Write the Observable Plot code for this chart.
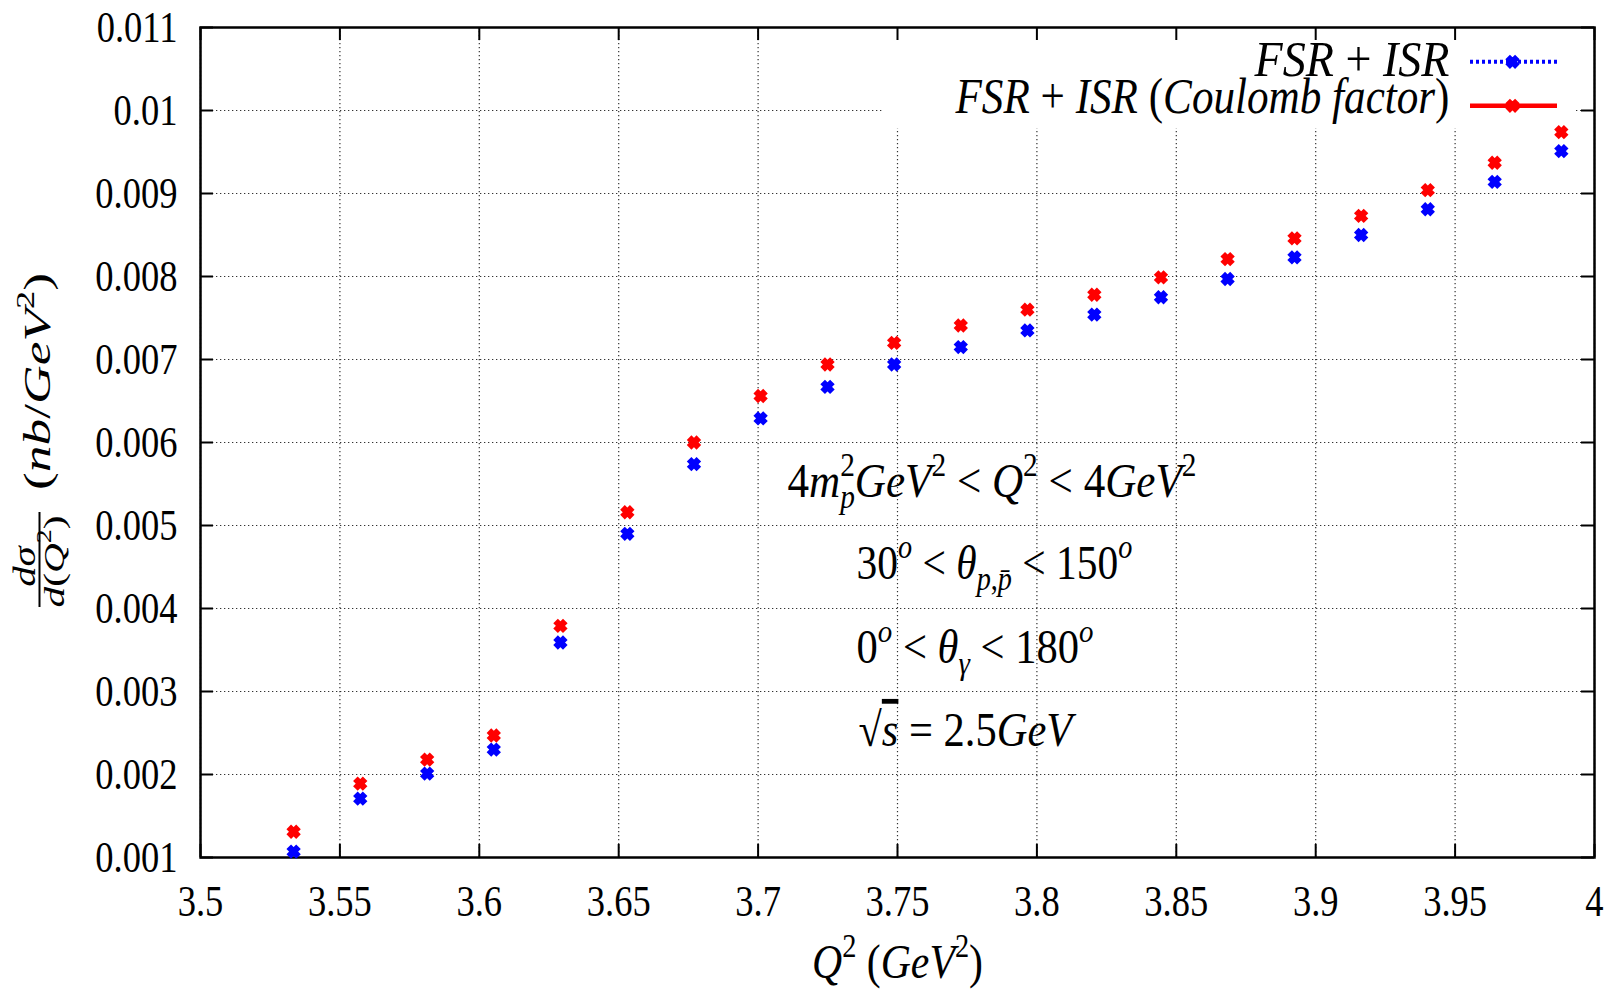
<!DOCTYPE html>
<html>
<head>
<meta charset="utf-8">
<script src="https://cdn.jsdelivr.net/npm/d3@7"></script>
<script src="https://cdn.jsdelivr.net/npm/@observablehq/plot@0.6"></script>
<style>
  html, body { margin: 0; padding: 0; background: white; }
  svg text, svg tspan { font-family: "Liberation Serif", "DejaVu Serif", serif !important; }
</style>
</head>
<body>
<script>
// ---- data ----
const q2 = [3.5334, 3.5573, 3.5813, 3.6052, 3.6291, 3.6531, 3.6770, 3.7009, 3.7249, 3.7488,
            3.7727, 3.7966, 3.8206, 3.8445, 3.8684, 3.8924, 3.9163, 3.9402, 3.9642, 3.9881];
const fsrIsr = [0.00107, 0.00171, 0.00201, 0.00230, 0.00359, 0.00490, 0.00574, 0.00629, 0.00667, 0.00694,
                0.00715, 0.00735, 0.00754, 0.00775, 0.00797, 0.00823, 0.00850, 0.00881, 0.00914, 0.00951];
const fsrIsrCoulomb = [0.00131, 0.00189, 0.00218, 0.00247, 0.00379, 0.00516, 0.00600, 0.00656, 0.00694, 0.00720,
                       0.00741, 0.00760, 0.00778, 0.00799, 0.00821, 0.00846, 0.00873, 0.00904, 0.00937, 0.00974];
const xTicks = [3.5, 3.55, 3.6, 3.65, 3.7, 3.75, 3.8, 3.85, 3.9, 3.95, 4];
const yTicks = [0.001, 0.002, 0.003, 0.004, 0.005, 0.006, 0.007, 0.008, 0.009, 0.01, 0.011];
const seriesNames = ["FSR + ISR", "FSR + ISR (Coulomb factor)"];
const seriesColors = ["#0000ff", "#ff0000"];
const annotations = [
  "4m^{2}_{p}GeV^{2} < Q^{2} < 4GeV^{2}",
  "30^{o} < θ_{p,p\u0304} < 150^{o}",
  "0^{o} < θ_{γ} < 180^{o}",
  "√~{s} = 2.5GeV"
];
const xTitle = "Q^{2} (GeV^{2})";
const yTitleUnit = "(nb/GeV^{2})";
const yTitleNum = "dσ";
const yTitleDen = "d(Q^{2})";

// ---- layout ----
const W = 1617, H = 991, mL = 200, mR = 23, mT = 27, mB = 134;
const xDom = [3.5, 4], yDom = [0.001, 0.011];
const pw = W - mL - mR, ph = H - mT - mB;
const cy = mT + ph / 2;
const px2x = px => xDom[0] + (px - mL) / pw * (xDom[1] - xDom[0]);
const py2y = py => yDom[1] - (py - mT) / ph * (yDom[1] - yDom[0]);
const tickLen = 13;
const tdx = tickLen / pw * (xDom[1] - xDom[0]);
const tdy = tickLen / ph * (yDom[1] - yDom[0]);
const TICK_FONT = 44, TICK_SQUISH = 0.83;

const blueData = q2.map((x, i) => ({x, y: fsrIsr[i]}));
const redData = q2.map((x, i) => ({x, y: fsrIsrCoulomb[i]}));

const gridStyle = {stroke: "#333", strokeOpacity: 1, strokeWidth: 1.2, strokeDasharray: "1.3,2.7"};
const markerStyle = {symbol: "times", r: 4.5, strokeWidth: 6.5};

const richEntries = [];
function rich(src, fs, target, opts) {
  richEntries.push({src, fs, target});
  return Plot.text([src], {text: d => d, fontSize: fs, lineAnchor: "bottom", fill: "black", ...opts});
}

const plot = Plot.plot({
  width: W, height: H,
  marginLeft: mL, marginRight: mR, marginTop: mT, marginBottom: mB,
  x: {domain: xDom},
  y: {domain: yDom},
  style: {fontFamily: "Liberation Serif, serif", fontSize: "34px", color: "black", background: "white", overflow: "visible"},
  marks: [
    Plot.gridX(xTicks, gridStyle),
    Plot.gridY(yTicks, gridStyle),
    // legend background box
    Plot.rect([0], {x1: px2x(882), x2: px2x(1575), y1: py2y(mT), y2: py2y(128), fill: "white"}),
    // inward ticks on all four sides
    Plot.ruleX(xTicks, {x: d => d, y1: yDom[0], y2: yDom[0] + tdy, stroke: "black", strokeWidth: 2}),
    Plot.ruleX(xTicks, {x: d => d, y1: yDom[1] - tdy, y2: yDom[1], stroke: "black", strokeWidth: 2}),
    Plot.ruleY(yTicks, {y: d => d, x1: xDom[0], x2: xDom[0] + tdx, stroke: "black", strokeWidth: 2}),
    Plot.ruleY(yTicks, {y: d => d, x1: xDom[1] - tdx, x2: xDom[1], stroke: "black", strokeWidth: 2}),
    Plot.frame({stroke: "black", strokeWidth: 2.5}),
    Plot.axisX(xTicks, {tickSize: 0, tickPadding: 27, tickFormat: d => String(d), fontSize: TICK_FONT, label: null}),
    Plot.axisY(yTicks, {tickSize: 0, tickPadding: 23, tickFormat: d => String(+d.toFixed(3)), fontSize: TICK_FONT, label: null}),
    // data
    Plot.dot(blueData, {x: "x", y: "y", stroke: seriesColors[0], ...markerStyle}),
    Plot.dot(redData, {x: "x", y: "y", stroke: seriesColors[1], ...markerStyle}),
    // legend samples
    Plot.ruleY([py2y(61.3)], {y: d => d, x1: px2x(1470), x2: px2x(1557), stroke: seriesColors[0], strokeWidth: 4, strokeDasharray: "3,3"}),
    Plot.ruleY([py2y(105.3)], {y: d => d, x1: px2x(1470), x2: px2x(1557), stroke: seriesColors[1], strokeWidth: 4.5}),
    Plot.dot([[px2x(1512), py2y(61.3)]], {x: d => d[0], y: d => d[1], stroke: seriesColors[0], ...markerStyle}),
    Plot.dot([[px2x(1512), py2y(105.3)]], {x: d => d[0], y: d => d[1], stroke: seriesColors[1], ...markerStyle}),
    rich(seriesNames[0], 50, 196, {frameAnchor: "top-left", dx: 1449 - mL, dy: 75 - mT, textAnchor: "end"}),
    rich(seriesNames[1], 50, 495, {frameAnchor: "top-left", dx: 1449 - mL, dy: 112 - mT, textAnchor: "end"}),
    // annotation block
    rich(annotations[0], 48, 409, {frameAnchor: "top-left", dx: 787 - mL, dy: 496 - mT, textAnchor: "start"}),
    rich(annotations[1], 48, 276, {frameAnchor: "top-left", dx: 856 - mL, dy: 578 - mT, textAnchor: "start"}),
    rich(annotations[2], 48, 237, {frameAnchor: "top-left", dx: 856 - mL, dy: 662 - mT, textAnchor: "start"}),
    rich(annotations[3], 48, 218, {frameAnchor: "top-left", dx: 858 - mL, dy: 745 - mT, textAnchor: "start"}),
    // axis titles
    rich(xTitle, 48, 171, {frameAnchor: "bottom", dy: 977 - (H - mB), textAnchor: "middle"}),
    rich(yTitleUnit, 38, 217, {frameAnchor: "left", dx: 49 - mL, dy: 381 - cy, rotate: -90, textAnchor: "middle"}),
    rich(yTitleNum, 32, 42, {frameAnchor: "left", dx: 34 - mL, dy: 566 - cy, rotate: -90, textAnchor: "middle"}),
    rich(yTitleDen, 30, 92, {frameAnchor: "left", dx: 63 - mL, dy: 561 - cy, rotate: -90, textAnchor: "middle"}),
    Plot.ruleX([px2x(39)], {x: d => d, y1: py2y(512), y2: py2y(607), stroke: "black", strokeWidth: 2})
  ]
});
document.body.appendChild(plot);

// ---- rich text (super/subscripts, italic math letters) ----
const ITALIC = /[A-Za-z\u0391-\u03A9\u03B1-\u03C9]/;
function parseMarkup(src) {
  const toks = []; let buf = "";
  for (let i = 0; i < src.length; i++) {
    const c = src[i];
    if ((c === "^" || c === "_" || c === "~") && src[i + 1] === "{") {
      if (buf) { toks.push({mode: "n", text: buf}); buf = ""; }
      const j = src.indexOf("}", i + 2);
      toks.push({mode: c === "^" ? "sup" : c === "_" ? "sub" : "ovl", text: src.slice(i + 2, j)});
      i = j;
    } else buf += c;
  }
  if (buf) toks.push({mode: "n", text: buf});
  return toks;
}
function runs(text) {
  const out = [];
  for (const ch of text) {
    const comb = /[\u0300-\u036f]/.test(ch);
    const it = comb && out.length ? out[out.length - 1].it : ITALIC.test(ch);
    if (out.length && out[out.length - 1].it === it) out[out.length - 1].s += ch;
    else out.push({s: ch, it});
  }
  return out;
}
function squish(node, s) {
  const bb = node.getBBox();
  const anchor = getComputedStyle(node).textAnchor;
  const ax = anchor === "end" ? bb.x + bb.width : anchor === "middle" ? bb.x + bb.width / 2 : bb.x;
  const t = node.getAttribute("transform") || "";
  node.setAttribute("transform", `${t} translate(${ax},0) scale(${s},1) translate(${-ax},0)`);
}
function applyRich(node, src, fs, target) {
  const el = d3.select(node);
  el.text(null);
  let cur = 0, prevSup = null;
  const toks = parseMarkup(src);
  toks.forEach((t, k) => {
    const small = t.mode === "sup" || t.mode === "sub";
    const size = small ? fs * 0.68 : fs;
    const tgt = t.mode === "sup" ? -0.42 * fs : t.mode === "sub" ? 0.24 * fs : 0;
    const spans = [];
    runs(t.text).forEach((r, ri) => {
      const ts = el.append("tspan").text(r.s)
        .attr("font-size", size)
        .attr("font-style", r.it ? "italic" : "normal");
      if (ri === 0 && Math.abs(tgt - cur) > 1e-6) { ts.attr("dy", tgt - cur); cur = tgt; }
      if (t.mode === "ovl") ts.style("text-decoration", "overline");
      spans.push(ts.node());
    });
    if (t.mode === "sub" && k > 0 && toks[k - 1].mode === "sup" && prevSup) {
      const w = prevSup.reduce((a, n) => a + n.getComputedTextLength(), 0);
      d3.select(spans[0]).attr("dx", -w);
    }
    prevSup = t.mode === "sup" ? spans : null;
  });
  if (target) {
    const bb = node.getBBox();
    if (bb.width > 0) squish(node, target / bb.width);
  }
}
const allTexts = Array.from(plot.querySelectorAll("text"));
for (const {src, fs, target} of richEntries) {
  const node = allTexts.find(n => n.textContent === src && !n.__done);
  if (node) { node.__done = true; applyRich(node, src, fs, target); }
}
// tick labels: condensed like the reference
plot.querySelectorAll('g[aria-label="x-axis tick label"] text, g[aria-label="y-axis tick label"] text')
  .forEach(n => squish(n, TICK_SQUISH));
</script>
</body>
</html>
